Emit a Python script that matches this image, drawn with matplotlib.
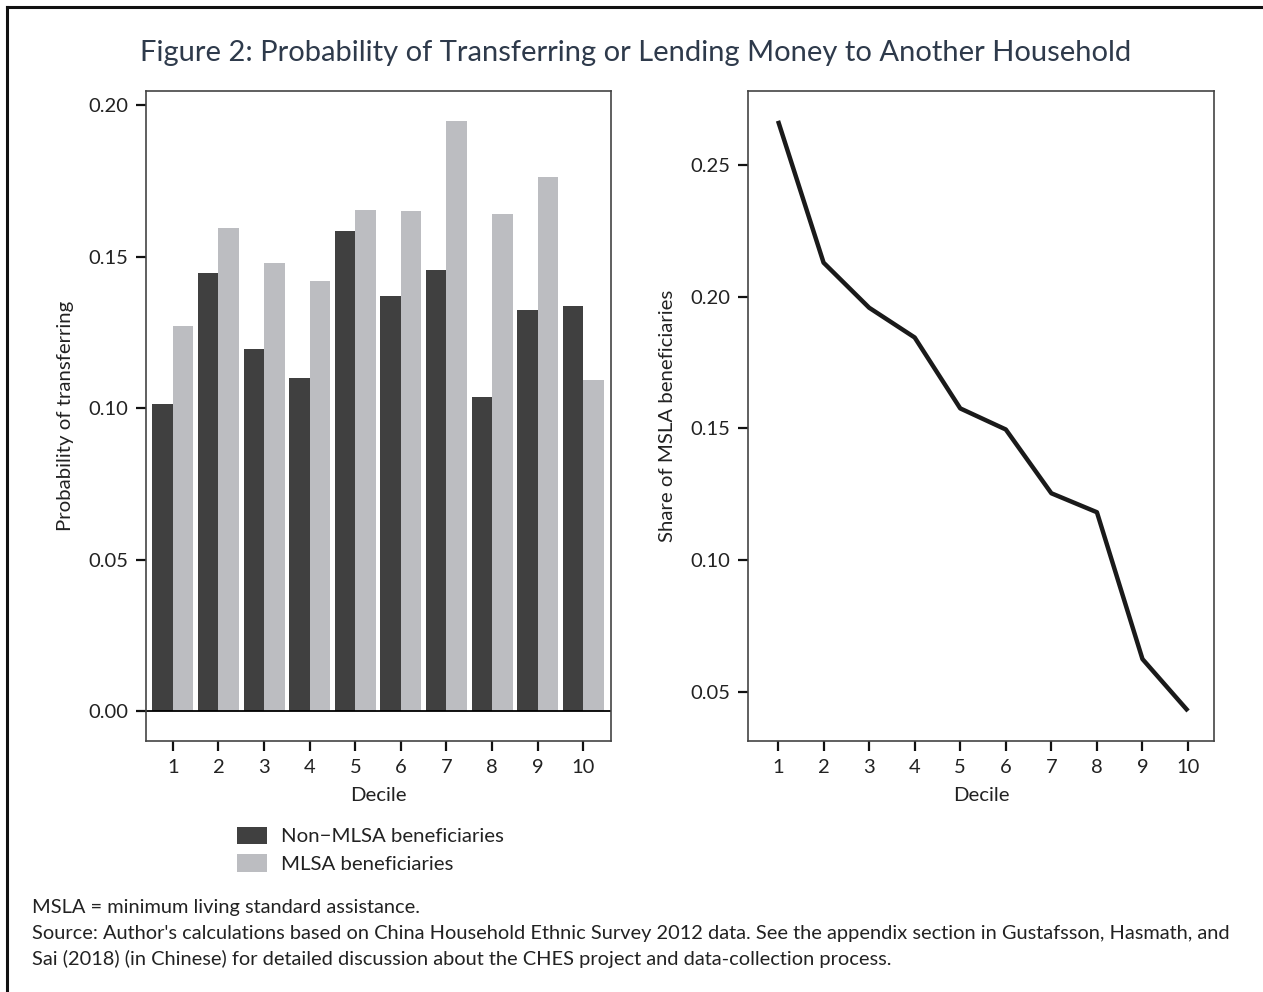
import numpy as np
import matplotlib.pyplot as plt
from matplotlib.lines import Line2D

plt.rcParams['font.family'] = ['Lato', 'DejaVu Sans']

deciles = np.arange(1, 11)
non_mlsa = [0.1013, 0.1446, 0.1195, 0.1099, 0.1584, 0.1370, 0.1455, 0.1036, 0.1323, 0.1337]
mlsa = [0.1270, 0.1594, 0.1478, 0.1419, 0.1653, 0.1650, 0.1947, 0.1640, 0.1762, 0.1092]
share_mlsa = [0.2667, 0.2129, 0.1958, 0.1845, 0.1576, 0.1496, 0.1254, 0.1182, 0.0625, 0.0428]

dark = '#404040'
light = '#bcbdc1'
txt = '#222222'

fig = plt.figure(figsize=(12.63, 9.92), dpi=100)

# border
fig.add_artist(Line2D([0.0055, 0.0055], [0, 0.993], color='#111111', lw=2.2))
fig.add_artist(Line2D([0.0055, 1.0], [0.993, 0.993], color='#111111', lw=2.2))

fig.text(0.503, 0.947, 'Figure 2: Probability of Transferring or Lending Money to Another Household',
         ha='center', va='center', fontsize=21, color='#2e3a4b')

ax1 = fig.add_axes([0.1156, 0.2530, 0.3682, 0.6552])
ax2 = fig.add_axes([0.5922, 0.2530, 0.3690, 0.6552])

w = 0.45
b1 = ax1.bar(deciles - w / 2, non_mlsa, width=w, color=dark, label='Non\u2212MLSA beneficiaries')
b2 = ax1.bar(deciles + w / 2, mlsa, width=w, color=light, label='MLSA beneficiaries')
ax1.axhline(0, color='black', lw=1.3)
ax1.set_xlim(0.41, 10.61)
ax1.set_ylim(-0.0099, 0.2046)
ax1.set_yticks([0, 0.05, 0.10, 0.15, 0.20])
ax1.set_yticklabels(['0.00', '0.05', '0.10', '0.15', '0.20'])
ax1.set_ylabel('Probability of transferring', fontsize=14.7, color=txt, labelpad=10)

ax2.plot(deciles, share_mlsa, color='#1a1a1a', lw=3.2, solid_capstyle='butt')
ax2.set_xlim(0.34, 10.57)
ax2.set_ylim(0.0314, 0.278)
ax2.set_yticks([0.05, 0.10, 0.15, 0.20, 0.25])
ax2.set_yticklabels(['0.05', '0.10', '0.15', '0.20', '0.25'])
ax2.set_ylabel('Share of MSLA beneficiaries', fontsize=14.7, color=txt, labelpad=10)

for ax in (ax1, ax2):
    ax.set_xticks(deciles)
    ax.set_xlabel('Decile', fontsize=14.7, color=txt, labelpad=8)
    ax.tick_params(axis='both', length=7, width=1.6, color='#111111',
                   labelsize=14.5, labelcolor=txt, pad=6)
    for s in ax.spines.values():
        s.set_color('#444444')
        s.set_linewidth(1.2)

fig.legend(handles=[b1, b2], loc='upper left', bbox_to_anchor=(0.181, 0.175),
           frameon=False, fontsize=14.7, handlelength=1.5, handleheight=0.95,
           labelspacing=0.42, handletextpad=0.65, borderaxespad=0, labelcolor=txt)

fig.text(0.025, 0.085, 'MSLA = minimum living standard assistance.', fontsize=14.4, color=txt, va='center')
fig.text(0.025, 0.059, "Source: Author's calculations based on China Household Ethnic Survey 2012 data. "
         "See the appendix section in Gustafsson, Hasmath, and", fontsize=14.4, color=txt, va='center')
fig.text(0.025, 0.033, 'Sai (2018) (in Chinese) for detailed discussion about the CHES project '
         'and data-collection process.', fontsize=14.4, color=txt, va='center')

fig.savefig('out.png', dpi=100)
